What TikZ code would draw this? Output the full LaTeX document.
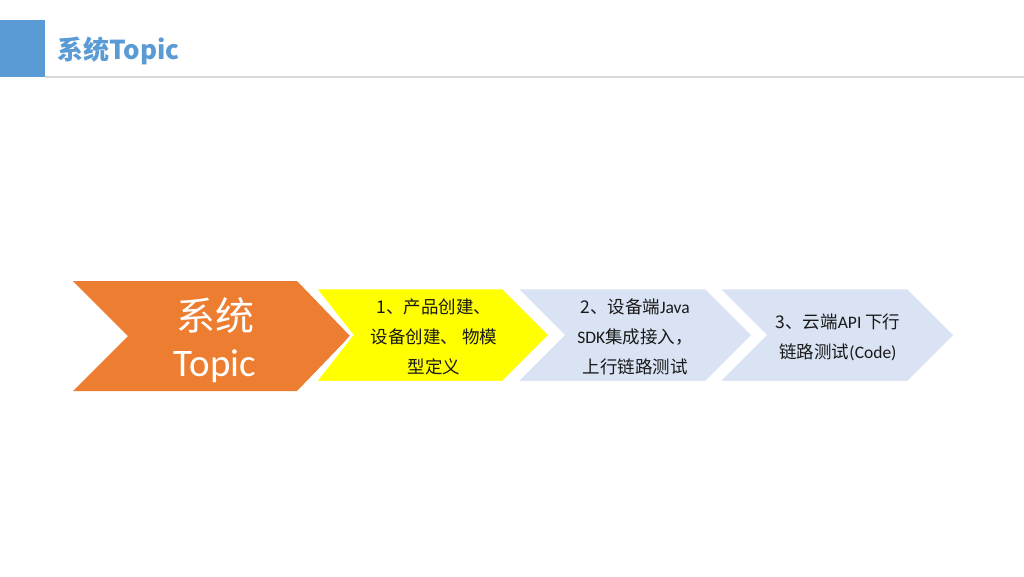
\documentclass[tikz,border=0pt]{standalone}
\usepackage{fontspec}
\setmainfont{Carlito}
\newfontfamily\cjk{Noto Sans CJK SC}
\definecolor{hdrblue}{HTML}{5B9BD5}
\definecolor{orng}{HTML}{ED7D31}
\definecolor{ylw}{HTML}{FFFF00}
\definecolor{lblue}{HTML}{DAE3F3}
\definecolor{rule}{HTML}{D9D9D9}
\begin{document}
\begin{tikzpicture}[x=1pt,y=-1pt,
  chev/.style={draw=white,line width=2.5pt,line join=miter},
  small/.style={align=center,font=\fontsize{17.5}{30}\selectfont,text=black!90,inner sep=0pt},
  big/.style={align=center,font=\fontsize{39}{50}\selectfont,text=white,inner sep=0pt}]
\useasboundingbox (0,0) rectangle (1024,576);
\fill[white] (0,0) rectangle (1024,576);
% header
\fill[hdrblue] (0,20) rectangle (45,77);
\draw[rule,line width=1.5pt] (45,77) -- (1024,77);
\node[anchor=west,text=hdrblue,font=\fontsize{26}{30}\selectfont\bfseries,inner sep=0pt] (title) at (57,51) {\cjk\bfseries 系统Topic};
% chevrons
\fill[orng] (73,281) -- (297,281) -- (350,336) -- (297,391) -- (73,391) -- (128,336) -- cycle;
\filldraw[chev,fill=lblue] (718,288) -- (908,288) -- (955,335) -- (908,382) -- (718,382) -- (765,335) -- cycle;
\filldraw[chev,fill=lblue] (516,288) -- (706,288) -- (753,335) -- (706,382) -- (516,382) -- (563,335) -- cycle;
\filldraw[chev,fill=ylw] (315,288) -- (503,288) -- (550,335) -- (503,382) -- (315,382) -- (352,335) -- cycle;
% texts
\node[big] (s0a) at (215,316) {\cjk 系统};
\node[big] (s0b) at (215,366) {Topic};
\node[small] (s1) at (434,337) {\cjk 1、产品创建、\\\cjk 设备创建、 物模\\\cjk 型定义};
\node[small] (s2) at (635,337) {{\cjk 2、设备端}Java\\SDK{\cjk 集成接入，}\\\cjk 上行链路测试};
\node[small] (s3) at (838,337) {{\cjk 3、云端}API {\cjk 下行}\\{\cjk 链路测试}(Code)};
\end{tikzpicture}
\end{document}
